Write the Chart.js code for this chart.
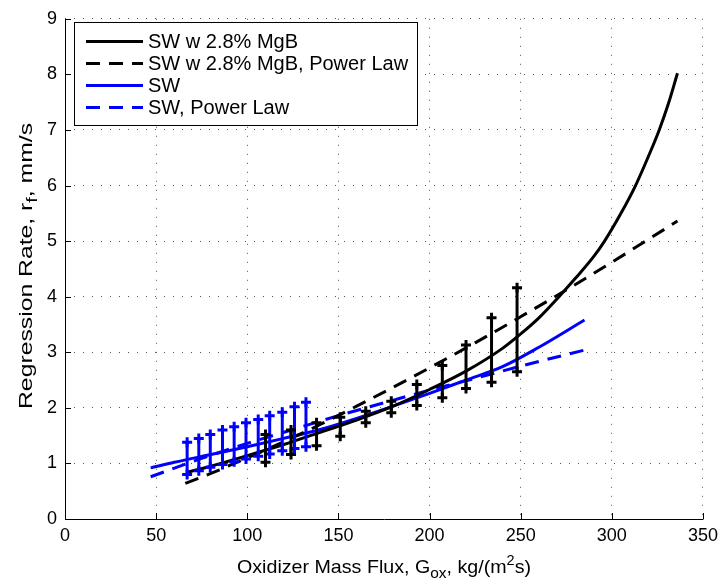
<!DOCTYPE html>
<html><head><meta charset="utf-8">
<script src="https://cdn.jsdelivr.net/npm/chart.js@4.4.0/dist/chart.umd.min.js"></script>
<style>html,body{margin:0;padding:0;background:#fff}canvas{display:block}</style>
</head><body>
<canvas id="c" width="724" height="587"></canvas>
<script>
// ---------- data ----------
const xTicks = [0, 50, 100, 150, 200, 250, 300, 350];
const yTicks = [0, 1, 2, 3, 4, 5, 6, 7, 8, 9];
const legendLabels = ['SW w 2.8% MgB', 'SW w 2.8% MgB, Power Law', 'SW', 'SW, Power Law'];

const mgbX = [67, 80, 100, 120, 140, 160, 180, 200, 220, 240, 250, 260, 271, 280, 290, 296, 305, 313, 320, 326, 331, 336];
const mgbY = [0.84, 0.95, 1.14, 1.34, 1.56, 1.78, 2.03, 2.33, 2.66, 3.07, 3.33, 3.62, 4.00, 4.33, 4.72, 5.00, 5.50, 6.00, 6.52, 7.00, 7.47, 8.02];

const mgbPowX = [66, 80, 100, 120, 140, 160, 180, 200, 225, 250, 275, 300, 320, 336];
const mgbPowY = [0.64, 0.82, 1.10, 1.39, 1.70, 2.03, 2.37, 2.72, 3.17, 3.64, 4.12, 4.62, 5.03, 5.36];

const swX = [47, 60, 80, 100, 120, 140, 160, 180, 200, 220, 240, 260, 285];
const swY = [0.92, 1.02, 1.16, 1.30, 1.45, 1.61, 1.81, 2.03, 2.26, 2.50, 2.74, 3.09, 3.58];

const swPowX = [47, 75, 100, 125, 150, 175, 200, 225, 250, 285];
const swPowY = [0.76, 1.09, 1.36, 1.61, 1.86, 2.09, 2.32, 2.53, 2.75, 3.04];

const mgbErrX    = [110, 124, 138, 151, 165, 179, 193, 207, 220, 234, 248];
const mgbErrLow  = [1.02, 1.16, 1.32, 1.49, 1.73, 1.91, 2.04, 2.18, 2.35, 2.46, 2.65];
const mgbErrHigh = [1.52, 1.60, 1.73, 1.83, 1.94, 2.12, 2.42, 2.76, 3.13, 3.62, 4.16];

const swErrX    = [67, 73.4, 79.7, 86.4, 92.8, 99.3, 106, 112.3, 119.2, 125.9, 132.2];
const swErrLow  = [0.80, 0.87, 0.93, 0.98, 1.03, 1.08, 1.13, 1.17, 1.23, 1.27, 1.30];
const swErrHigh = [1.38, 1.45, 1.52, 1.60, 1.66, 1.73, 1.79, 1.86, 1.92, 2.02, 2.10];

// ---------- helpers ----------
const FONT = "'Liberation Sans', Arial, Helvetica, sans-serif";
const BLUE = '#0000ff';
const pts = (xs, ys) => xs.map((x, i) => ({x: x, y: ys[i]}));
const errPts = (xs, lo, hi) => {
  const out = [];
  xs.forEach((x, i) => { out.push({x: x, y: lo[i]}, {x: x, y: hi[i]}, {x: x, y: null}); });
  return out;
};
const curve = (label, data, color, dash) => ({
  label, data, showLine: true, borderColor: color, backgroundColor: color,
  borderWidth: 3, borderDash: dash, pointRadius: 0, pointHoverRadius: 0,
  cubicInterpolationMode: 'monotone', fill: false
});
const errSet = (data, color) => ({
  label: '', data, showLine: true, spanGaps: false, borderColor: color,
  backgroundColor: color, borderWidth: 3, pointStyle: 'cross', pointRadius: 5,
  pointBorderWidth: 3, pointBorderColor: color, pointHoverRadius: 5, fill: false
});

const legendStyles = [
  {color: '#000', dash: []}, {color: '#000', dash: [14, 9]},
  {color: BLUE, dash: []}, {color: BLUE, dash: [14, 9]}
];

// draw a run of text parts (with sub/superscripts) centred on 0, stretched to a target length
function drawRich(ctx, parts, targetLen) {
  let w = 0;
  parts.forEach(p => { ctx.font = p.f + 'px ' + FONT; w += ctx.measureText(p.t).width; });
  const k = targetLen / w;
  ctx.save();
  ctx.scale(k, 1);
  let xx = -w / 2;
  ctx.textBaseline = 'alphabetic'; ctx.textAlign = 'left'; ctx.fillStyle = '#000';
  parts.forEach(p => { ctx.font = p.f + 'px ' + FONT; ctx.fillText(p.t, xx, p.dy); xx += ctx.measureText(p.t).width; });
  ctx.restore();
}

const decor = {
  id: 'decor',
  afterDraw(chart) {
    const {ctx, chartArea: a, scales: {x, y}} = chart;
    ctx.save();
    // axes lines
    ctx.strokeStyle = '#000'; ctx.lineWidth = 1; ctx.setLineDash([]);
    ctx.beginPath();
    ctx.moveTo(Math.round(a.left) + 0.5, a.top); ctx.lineTo(Math.round(a.left) + 0.5, Math.round(a.bottom) + 0.5);
    ctx.lineTo(a.right + 0.5, Math.round(a.bottom) + 0.5);
    ctx.stroke();
    // inward ticks
    ctx.beginPath();
    xTicks.forEach(v => { const px = Math.round(x.getPixelForValue(v)) + 0.5;
      ctx.moveTo(px, a.bottom); ctx.lineTo(px, a.bottom - 6); });
    yTicks.forEach(v => { const py = Math.round(y.getPixelForValue(v)) + 0.5;
      ctx.moveTo(a.left, py); ctx.lineTo(a.left + 6, py); });
    ctx.stroke();

    // legend
    const bx = 74.5, by = 22.5, bw = 343, bh = 103;
    ctx.fillStyle = '#fff'; ctx.fillRect(bx, by, bw, bh);
    ctx.strokeStyle = '#000'; ctx.lineWidth = 1; ctx.strokeRect(bx, by, bw, bh);
    const rows = [41.5, 63.5, 85.5, 107.5];
    ctx.font = '20px ' + FONT; ctx.textBaseline = 'middle'; ctx.textAlign = 'left';
    legendLabels.forEach((t, i) => {
      const s = legendStyles[i];
      ctx.strokeStyle = s.color; ctx.lineWidth = 3; ctx.setLineDash(s.dash);
      ctx.beginPath(); ctx.moveTo(86, rows[i]); ctx.lineTo(143, rows[i]); ctx.stroke();
      ctx.setLineDash([]);
      ctx.fillStyle = '#000'; ctx.fillText(t, 148, rows[i] + 1);
    });

    // x title with subscript / superscript
    ctx.save();
    ctx.translate((a.left + a.right) / 2, 573);
    drawRich(ctx, [
      {t: 'Oxidizer Mass Flux, G', f: 19, dy: 0},
      {t: 'ox', f: 15, dy: 5},
      {t: ', kg/(m', f: 19, dy: 0},
      {t: '2', f: 14, dy: -8},
      {t: 's)', f: 19, dy: 0}
    ], 294);
    ctx.restore();

    // y title rotated
    ctx.save();
    ctx.translate(32, 266);
    ctx.rotate(-Math.PI / 2);
    drawRich(ctx, [
      {t: 'Regression Rate, r', f: 19, dy: 0},
      {t: 'f', f: 15, dy: 5},
      {t: ', mm/s', f: 19, dy: 0}
    ], 286);
    ctx.restore();
    ctx.restore();
  }
};

new Chart(document.getElementById('c'), {
  type: 'scatter',
  data: {
    datasets: [
      errSet(errPts(mgbErrX, mgbErrLow, mgbErrHigh), '#000'),
      errSet(errPts(swErrX, swErrLow, swErrHigh), BLUE),
      curve(legendLabels[0], pts(mgbX, mgbY), '#000', []),
      curve(legendLabels[1], pts(mgbPowX, mgbPowY), '#000', [14, 9]),
      curve(legendLabels[2], pts(swX, swY), BLUE, []),
      curve(legendLabels[3], pts(swPowX, swPowY), BLUE, [14, 9])
    ]
  },
  options: {
    responsive: false, animation: false, events: [],
    layout: {padding: {top: 13, right: 15, left: 0, bottom: 0}},
    plugins: {legend: {display: false}, tooltip: {enabled: false}},
    scales: {
      x: {
        type: 'linear', min: 0, max: 350,
        afterBuildTicks: s => { s.ticks = xTicks.map(v => ({value: v})); },
        afterFit: s => { s.height = 68; },
        grid: {color: '#555', lineWidth: 1, drawTicks: false},
        border: {display: false, dash: [1, 8]},
        ticks: {color: '#000', font: {family: FONT, size: 18}, padding: 6, maxRotation: 0, autoSkip: false}
      },
      y: {
        type: 'linear', min: 0, max: 9,
        afterBuildTicks: s => { s.ticks = yTicks.map(v => ({value: v})); },
        afterFit: s => { s.width = 65; },
        grid: {color: '#555', lineWidth: 1, drawTicks: false},
        border: {display: false, dash: [1, 8]},
        ticks: {color: '#000', font: {family: FONT, size: 18}, padding: 8, autoSkip: false}
      }
    }
  },
  plugins: [decor]
});
</script>
</body></html>
